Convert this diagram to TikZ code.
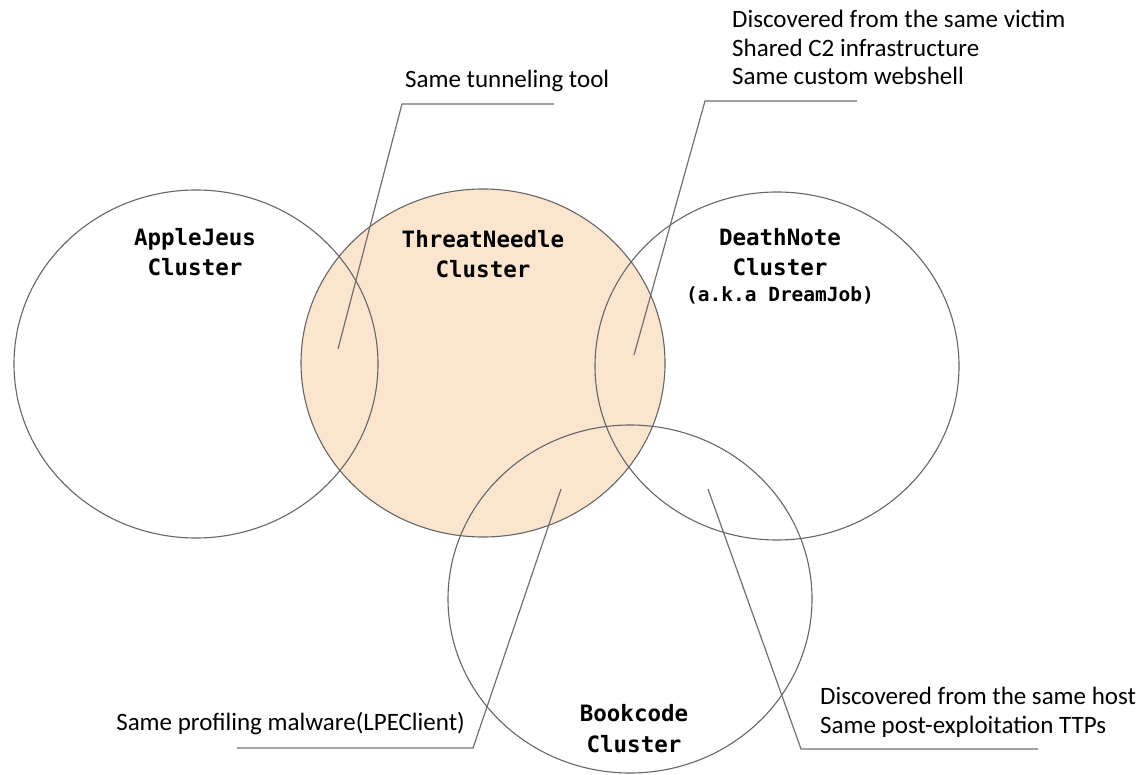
\documentclass[tikz,border=0pt]{standalone}
\usepackage{fontspec}
\setmainfont{Carlito}
\newfontfamily\clusterfont{DejaVu Sans Mono}
\usetikzlibrary{shapes.geometric}
\definecolor{tnfill}{HTML}{FBE5CE}
\definecolor{rimgray}{HTML}{666666}
\definecolor{leadgray}{HTML}{707070}

\begin{document}
\begin{tikzpicture}[x=1pt,y=-1pt]
  \tikzset{ClusterStyle/.style = {
    shape         = ellipse,
    draw          = rimgray,
    line width    = 1.1pt,
    minimum width = 364pt,
    minimum height= 348pt,
    inner sep     = 0pt
    }
  }
  \tikzset{TitleStyle/.style = {
    font          = \clusterfont\bfseries\fontsize{22.5}{30.5}\selectfont,
    align         = center,
    anchor        = base,
    inner sep     = 0pt
    }
  }
  \tikzset{NoteStyle/.style = {
    font          = \fontsize{25}{28.5}\selectfont,
    align         = left,
    anchor        = base west,
    inner sep     = 0pt
    }
  }
  \tikzset{LeaderStyle/.style = {
    draw          = leadgray,
    line width    = 1.2pt
    }
  }
  \useasboundingbox (0,0) rectangle (1145,775);

  % clusters
  \node[ClusterStyle, fill=tnfill](TN) at (483,363) {};
  \node[ClusterStyle](AJ) at (196,364) {};
  \node[ClusterStyle](DN) at (777,366) {};
  \node[ClusterStyle](BC) at (630,599) {};

  % titles (base = last line)
  \node[TitleStyle](AJt) at (195,276) {AppleJeus\\Cluster};
  \node[TitleStyle](TNt) at (483,278) {ThreatNeedle\\Cluster};
  \node[TitleStyle](DNt) at (780,276) {DeathNote\\Cluster};
  \node[TitleStyle, font=\clusterfont\bfseries\fontsize{19.5}{26}\selectfont](DNaka) at (780,302) {(a.k.a DreamJob)};
  \node[TitleStyle](BCt) at (634,752) {Bookcode\\Cluster};

  % overlap points
  \coordinate (AJTN) at (338,349);
  \coordinate (TNDN) at (634,355);
  \coordinate (TNBC) at (561,489);
  \coordinate (DNBC) at (708,489);

  % notes
  \node[NoteStyle](Tun) at (405,88) {Same tunneling tool};
  \node[NoteStyle](Vic) at (732,85) {Discovered from the same victim\\Shared C2 infrastructure\\Same custom webshell};
  \node[NoteStyle, anchor=base east](Lpe) at (465,730) {Same profiling malware(LPEClient)};
  \node[NoteStyle](Host) at (820,733) {Discovered from the same host\\Same post-exploitation TTPs};

  % leaders
  \coordinate (TunR) at (554,104);
  \coordinate (TunL) at (402,104);
  \coordinate (VicR) at (857,101);
  \coordinate (VicL) at (705,101);
  \coordinate (LpeL) at (237,748);
  \coordinate (LpeR) at (473,748);
  \coordinate (HostL) at (801,749);
  \coordinate (HostR) at (1038,749);
  \draw[LeaderStyle] (TunR) -- (TunL) -- (AJTN);
  \draw[LeaderStyle] (VicR) -- (VicL) -- (TNDN);
  \draw[LeaderStyle] (LpeL) -- (LpeR) -- (TNBC);
  \draw[LeaderStyle] (DNBC) -- (HostL) -- (HostR);
\end{tikzpicture}
\end{document}
